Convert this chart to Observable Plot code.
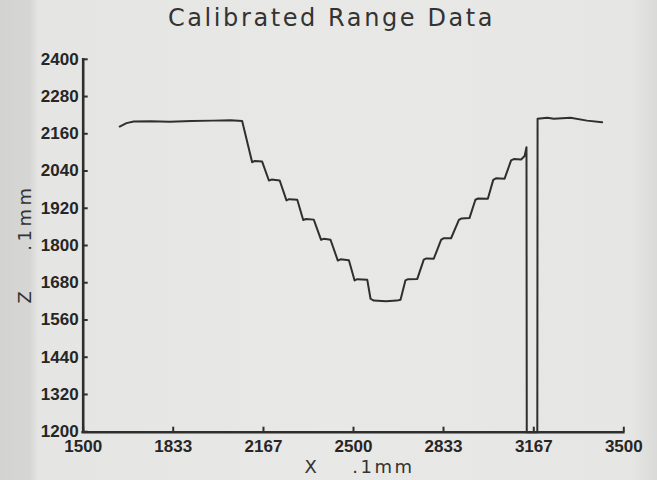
<!DOCTYPE html>
<html>
<head>
<meta charset="utf-8">
<script src="https://cdn.jsdelivr.net/npm/d3@7"></script>
<script src="https://cdn.jsdelivr.net/npm/@observablehq/plot@0.6"></script>
<style>
  html, body { margin: 0; padding: 0; }
  body {
    width: 657px; height: 480px; overflow: hidden;
    background: linear-gradient(to right, #d3d3d1 0px, #d6d6d4 30px, #e5e5e3 38px, #e8e8e6 330px, #e6e6e4 630px, #dadad8 657px);
  }
  #title {
    box-sizing: border-box;
    height: 40px;
    padding-top: 4px;
    padding-left: 6px;
    text-align: center;
    font-family: "DejaVu Sans", sans-serif;
    font-size: 24px;
    letter-spacing: 2.6px;
    color: #333;
    line-height: normal;
    white-space: nowrap;
  }
  #chart svg { display: block; }
</style>
</head>
<body>
<div id="title">Calibrated Range Data</div>
<div id="chart"></div>
<script>
// Scanned trace: X position (.1mm) and Z range (.1mm)
const xValues = [1635, 1660, 1687, 1749, 1820, 1900, 1980, 2045, 2088,
  2125, 2135, 2162,
  2187, 2197, 2227,
  2252, 2262, 2292,
  2314, 2324, 2353,
  2380, 2390, 2415,
  2442, 2452, 2483,
  2504, 2514, 2551,
  2563, 2575, 2620, 2660, 2674,
  2692, 2702, 2736,
  2760, 2770, 2797,
  2824, 2834, 2861,
  2890, 2900, 2929,
  2951, 2961, 2997,
  3017, 3027, 3059,
  3083, 3093, 3120, 3133, 3140,
  3141, 3180,
  3181, 3217, 3241, 3303, 3364, 3420];
const zValues = [2185, 2196, 2201, 2202, 2200, 2203, 2204, 2205, 2203,
  2070, 2074, 2072,
  2011, 2014, 2011,
  1947, 1951, 1949,
  1884, 1887, 1885,
  1820, 1823, 1820,
  1753, 1757, 1754,
  1689, 1693, 1691,
  1630, 1624, 1622, 1624, 1627,
  1689, 1693, 1694,
  1756, 1760, 1759,
  1820, 1825, 1825,
  1884, 1889, 1890,
  1949, 1953, 1952,
  2013, 2018, 2017,
  2076, 2080, 2079, 2090, 2118,
  1200, 1200,
  2210, 2213, 2210, 2213, 2204, 2199];

const xTicks = [1500, 1833, 2167, 2500, 2833, 3167, 3500];
const yTicks = [1200, 1320, 1440, 1560, 1680, 1800, 1920, 2040, 2160, 2280, 2400];
const xDomain = [1500, 3500];
const yDomain = [1200, 2400];
const xLabel = "X\u00a0\u00a0\u00a0\u00a0.1mm";
const yLabel = "Z\u00a0\u00a0\u00a0\u00a0.1mm";

const trace = xValues.map((x, i) => ({x, z: zValues[i]}));

const ink = "#2e2e2e";
const tickFont = {fontFamily: "Liberation Sans", fontWeight: "bold", fontSize: 17, fill: "#262626"};

const plot = Plot.plot({
  width: 657,
  height: 440,
  marginLeft: 82.7,
  marginRight: 33.7,
  marginTop: 19.3,
  marginBottom: 48.3,
  style: {background: "transparent", fontFamily: "Liberation Sans", fontSize: "17px", fontWeight: "bold", color: "#262626"},
  x: {domain: xDomain, label: null},
  y: {domain: yDomain, label: null},
  marks: [
    Plot.axisX({ticks: xTicks, tickSize: -5, tickPadding: 13, strokeWidth: 2, stroke: ink,
      tickFormat: d => String(d), label: null, ...tickFont}),
    Plot.axisY({ticks: yTicks, tickSize: -5, tickPadding: 9.5, strokeWidth: 2, stroke: ink,
      tickFormat: d => String(d), label: null, dy: -0.5, ...tickFont}),
    Plot.ruleX(xDomain.slice(0, 1), {stroke: ink, strokeWidth: 2.6, strokeLinecap: "square"}),
    Plot.ruleY(yDomain.slice(0, 1), {stroke: ink, strokeWidth: 2.6, strokeLinecap: "square"}),
    Plot.line(trace, {x: "x", y: "z", stroke: "#2f2f2f", strokeWidth: 2, strokeLinejoin: "round"}),
    Plot.text([yLabel], {frameAnchor: "left", rotate: -90, dx: -58, dy: -2, text: d => d,
      fontFamily: "DejaVu Sans", fontWeight: "normal", fontSize: 18, fill: "#333", textAnchor: "middle"}),
    Plot.text([xLabel], {frameAnchor: "bottom", dx: 6, dy: 41, lineAnchor: "bottom", text: d => d,
      fontFamily: "DejaVu Sans", fontWeight: "normal", fontSize: 18, fill: "#333", textAnchor: "middle"})
  ]
});

// wider plotter-style spacing for the axis titles
plot.querySelectorAll("text").forEach(t => {
  if (t.textContent === xLabel) t.setAttribute("letter-spacing", "2.5");
  if (t.textContent === yLabel) t.setAttribute("letter-spacing", "3.5");
});

document.getElementById("chart").appendChild(plot);
</script>
</body>
</html>
